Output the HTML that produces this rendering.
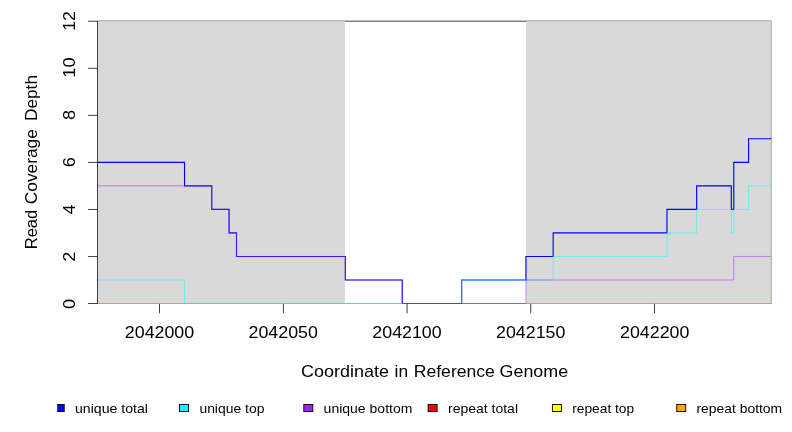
<!DOCTYPE html>
<html>
<head>
<meta charset="utf-8">
<title>Read Coverage Depth</title>
<style>
html,body{margin:0;padding:0;background:#fff;}
body{width:792px;height:432px;overflow:hidden;}
svg{display:block;will-change:transform;}
text{font-family:"Liberation Sans",sans-serif;fill:#000;}
</style>
</head>
<body>
<svg width="792" height="432" viewBox="0 0 792 432">
<rect x="0" y="0" width="792" height="432" fill="#ffffff"/>

<!-- shaded regions -->
<g shape-rendering="crispEdges">
<rect x="98" y="20" width="247" height="284" fill="#d9d9d9"/>
<rect x="526" y="20" width="246" height="284" fill="#d9d9d9"/>
<!-- top line (y=12): over white gap -->
<rect x="345" y="20" width="181" height="1" fill="#bebebe"/>
<rect x="345" y="21" width="181" height="1" fill="#808080"/>
<!-- top line over shaded regions -->
<rect x="98" y="20" width="247" height="1" fill="#bbbbbb"/>
<rect x="98" y="21" width="247" height="1" fill="#c9c9c9"/>
<rect x="526" y="20" width="245" height="1" fill="#bbbbbb"/>
<rect x="526" y="21" width="245" height="1" fill="#c9c9c9"/>
<!-- right border -->
<rect x="770" y="21" width="1" height="283" fill="#cfcfcf"/>
<rect x="771" y="21" width="1" height="283" fill="#b6b6b6"/>
<rect x="771" y="20" width="1" height="1" fill="#ececec"/>
</g>

<!-- series -->
<clipPath id="pc"><rect x="97.5" y="20" width="674.2" height="283"/></clipPath>
<g fill="none" stroke-linejoin="miter" stroke-linecap="butt" clip-path="url(#pc)">
<!-- unique total (blue) -->
<polyline stroke="#0000ff" stroke-width="1.15" points="97.5,162.3 184.54,162.3 184.54,185.84 211.75,185.84 211.75,209.38 229.07,209.38 229.07,232.92 236.49,232.92 236.49,256.46 345.35,256.46 345.35,280.0 402.25,280.0 402.25,303.54 461.63,303.54 461.63,280.0 525.95,280.0 525.95,256.46 553.17,256.46 553.17,232.92 666.97,232.92 666.97,209.38 696.66,209.38 696.66,185.84 731.29,185.84 731.29,209.38 733.77,209.38 733.77,162.3 748.61,162.3 748.61,138.76 771.4,138.76"/>
<!-- unique top (cyan) -->
<polyline stroke="#00ffff" stroke-width="0.5" points="97.5,280.0 184.54,280.0 184.54,303.54 461.63,303.54 461.63,280.0 553.17,280.0 553.17,256.46 666.97,256.46 666.97,232.92 696.66,232.92 696.66,209.38 731.29,209.38 731.29,232.92 733.77,232.92 733.77,209.38 748.61,209.38 748.61,185.84 771.4,185.84"/>
<!-- unique bottom (purple) -->
<polyline stroke="#a020f0" stroke-width="0.5" points="97.5,185.84 211.75,185.84 211.75,209.38 229.07,209.38 229.07,232.92 236.49,232.92 236.49,256.46 345.35,256.46 345.35,280.0 402.25,280.0 402.25,303.54 525.95,303.54 525.95,280.0 733.77,280.0 733.77,256.46 771.4,256.46"/>
</g>

<!-- baseline (y=0) colour segments, row 303 -->
<g shape-rendering="crispEdges">
<rect x="98" y="303" width="86" height="1" fill="#ff9a00"/>
<rect x="184" y="303" width="218" height="1" fill="#78cd80"/>
<rect x="402" y="303" width="60" height="1" fill="#4b3cfa"/>
<rect x="462" y="303" width="64" height="1" fill="#ce4e7a"/>
<rect x="526" y="303" width="246" height="1" fill="#ff9a00"/>
</g>

<!-- axes -->
<g stroke="#000" stroke-width="0.75" fill="none">
<line x1="97.5" y1="20.7" x2="97.5" y2="303.9"/>
<line x1="88.1" y1="21.24" x2="97.5" y2="21.24"/>
<line x1="88.1" y1="68.3" x2="97.5" y2="68.3"/>
<line x1="88.1" y1="115.36" x2="97.5" y2="115.36"/>
<line x1="88.1" y1="162.42" x2="97.5" y2="162.42"/>
<line x1="88.1" y1="209.48" x2="97.5" y2="209.48"/>
<line x1="88.1" y1="256.54" x2="97.5" y2="256.54"/>
<line x1="88.1" y1="303.5" x2="97.5" y2="303.5"/>
<line x1="159.5" y1="303.9" x2="159.5" y2="313.3"/>
<line x1="283.4" y1="303.9" x2="283.4" y2="313.3"/>
<line x1="407.1" y1="303.9" x2="407.1" y2="313.3"/>
<line x1="530.75" y1="303.9" x2="530.75" y2="313.3"/>
<line x1="654.5" y1="303.9" x2="654.5" y2="313.3"/>
</g>

<!-- x tick labels -->
<g font-size="16.2" text-anchor="middle">
<text x="159.5" y="338.2" textLength="69.3" lengthAdjust="spacingAndGlyphs">2042000</text>
<text x="283.2" y="338.2" textLength="69.3" lengthAdjust="spacingAndGlyphs">2042050</text>
<text x="407" y="338.2" textLength="69.3" lengthAdjust="spacingAndGlyphs">2042100</text>
<text x="530.7" y="338.2" textLength="69.3" lengthAdjust="spacingAndGlyphs">2042150</text>
<text x="654.7" y="338.2" textLength="69.3" lengthAdjust="spacingAndGlyphs">2042200</text>
</g>

<!-- y tick labels (rotated) -->
<g font-size="16.2" text-anchor="middle">
<text transform="translate(75.3,21.06) rotate(-90)" textLength="19.6" lengthAdjust="spacingAndGlyphs">12</text>
<text transform="translate(75.3,67.54) rotate(-90)" textLength="20.4" lengthAdjust="spacingAndGlyphs">10</text>
<text transform="translate(75.3,115.02) rotate(-90)" textLength="10.1" lengthAdjust="spacingAndGlyphs">8</text>
<text transform="translate(75.3,162.30) rotate(-90)" textLength="10.1" lengthAdjust="spacingAndGlyphs">6</text>
<text transform="translate(75.3,209.38) rotate(-90)" textLength="10.1" lengthAdjust="spacingAndGlyphs">4</text>
<text transform="translate(75.3,256.66) rotate(-90)" textLength="10.1" lengthAdjust="spacingAndGlyphs">2</text>
<text transform="translate(75.3,303.84) rotate(-90)" textLength="10.1" lengthAdjust="spacingAndGlyphs">0</text>
</g>

<!-- axis titles -->
<g font-size="16.2">
<text x="301" y="376.8" textLength="88" lengthAdjust="spacingAndGlyphs">Coordinate</text>
<text x="394.6" y="376.8" textLength="13.5" lengthAdjust="spacingAndGlyphs">in</text>
<text x="413.8" y="376.8" textLength="81" lengthAdjust="spacingAndGlyphs">Reference</text>
<text x="499.6" y="376.8" textLength="68.5" lengthAdjust="spacingAndGlyphs">Genome</text>
<g transform="translate(36.5,0) rotate(-90)">
<text x="-249.3" y="0" textLength="39.5" lengthAdjust="spacingAndGlyphs">Read</text>
<text x="-204.2" y="0" textLength="75" lengthAdjust="spacingAndGlyphs">Coverage</text>
<text x="-121" y="0" textLength="46" lengthAdjust="spacingAndGlyphs">Depth</text>
</g>
</g>

<!-- legend -->
<clipPath id="lc"><rect x="57.2" y="400" width="740" height="20"/></clipPath>
<g stroke="#000" stroke-width="0.9" clip-path="url(#lc)">
<rect x="55.2" y="404.45" width="9" height="7.1" fill="#0000ff"/>
<rect x="179.5" y="404.45" width="9" height="7.1" fill="#00ffff"/>
<rect x="303.8" y="404.45" width="9" height="7.1" fill="#a020f0"/>
<rect x="428.1" y="404.45" width="9" height="7.1" fill="#ff0000"/>
<rect x="552.4" y="404.45" width="9" height="7.1" fill="#ffff00"/>
<rect x="676.7" y="404.45" width="9" height="7.1" fill="#ffa500"/>
</g>
<g font-size="12.6">
<text x="75" y="412.8" textLength="73" lengthAdjust="spacingAndGlyphs">unique total</text>
<text x="199.4" y="412.8" textLength="65" lengthAdjust="spacingAndGlyphs">unique top</text>
<text x="323.6" y="412.8" textLength="88.8" lengthAdjust="spacingAndGlyphs">unique bottom</text>
<text x="448" y="412.8" textLength="70" lengthAdjust="spacingAndGlyphs">repeat total</text>
<text x="572.2" y="412.8" textLength="62" lengthAdjust="spacingAndGlyphs">repeat top</text>
<text x="696.4" y="412.8" textLength="85.8" lengthAdjust="spacingAndGlyphs">repeat bottom</text>
</g>
</svg>
</body>
</html>
